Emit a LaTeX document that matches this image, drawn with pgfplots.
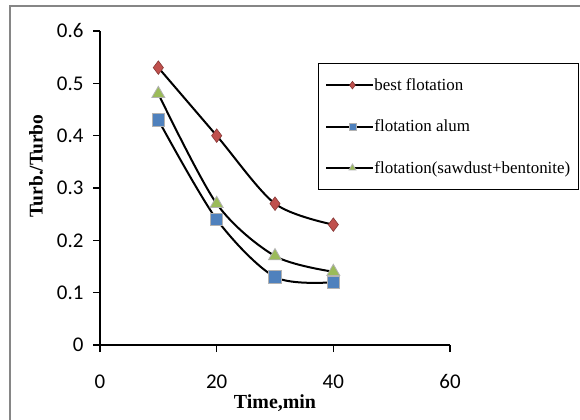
\documentclass[border=0pt]{standalone}
\usepackage{pgfplots}
\pgfplotsset{compat=1.18}
\usepackage{fontspec}
\setmainfont{Liberation Serif}
\newfontfamily\calibri{Carlito}
\definecolor{cred}{HTML}{C0504D}
\definecolor{cblue}{HTML}{4F81BD}
\definecolor{cgreen}{HTML}{9BBB59}
\definecolor{frm}{HTML}{868686}
\pgfplotstableread{
t best alum saw
10 0.53 0.43 0.48
20 0.40 0.24 0.27
30 0.27 0.13 0.17
40 0.23 0.12 0.14
}\datatable
\begin{document}
\begin{tikzpicture}[x=1bp,y=1bp]
\useasboundingbox (0,0) rectangle (580,419);
\draw[frm, line width=2bp] (10,-5) -- (10,413) -- (590,413);
\begin{axis}[
  at={(100bp,74bp)}, anchor=south west,
  scale only axis, width=350bp, height=314bp,
  xmin=0, xmax=60, ymin=0, ymax=0.6,
  axis x line*=bottom, axis y line*=left,
  axis line style={-, line width=1.5bp, black},
  xtick={0,20,40,60},
  ytick={0,0.1,0.2,0.3,0.4,0.5,0.6},
  yticklabels={0,0.1,0.2,0.3,0.4,0.5,0.6},
  tick align=outside, major tick length=7bp,
  tick style={black, line width=1.5bp},
  ticklabel style={font=\calibri\fontsize{21}{21}\selectfont},
  /pgf/number format/assume math mode=true,
  xticklabel style={yshift=-19bp},
  yticklabel style={xshift=-6bp},
  legend style={at={(rel axis cs:0.623,0.898)}, anchor=north west,
    draw=black, line width=0.8bp, font=\fontsize{17}{17}\selectfont,
    row sep=26bp, inner xsep=7bp, inner ysep=14bp,
    nodes={inner sep=1bp}},
  legend cell align=left,
  legend image code/.code={
    \path (0bp,0bp) -- (46bp,0bp);
    \draw[mark repeat=2, mark phase=2, #1]
      plot coordinates {(6bp,0bp) (26bp,0bp) (46bp,0bp)};},
  every axis plot/.append style={black, line width=2bp, smooth, tension=0.5},
]
\addplot[mark=diamond*, mark size=6.8bp, mark options={fill=cred, draw=cred!70!black, line width=0.6bp},
  legend image post style={mark size=3.8bp}] table[x=t, y=best] {\datatable};
\addlegendentry{best flotation}
\addplot[mark=square*, mark size=6.2bp, mark options={fill=cblue, draw=gray!60, line width=0.8bp},
  legend image post style={mark size=3.5bp}] table[x=t, y=alum] {\datatable};
\addlegendentry{flotation alum}
\addplot[mark=triangle*, mark size=7.5bp, mark options={fill=cgreen, draw=gray!60, line width=0.8bp},
  legend image post style={mark size=4bp}] table[x=t, y=saw] {\datatable};
\addlegendentry{flotation(sawdust+bentonite)}
\end{axis}
\node[font=\bfseries\fontsize{20}{20}\selectfont] at (275,16) {Time,min};
\node[font=\bfseries\fontsize{19.5}{19.5}\selectfont, rotate=90] at (36,253) {Turb./Turbo};
\end{tikzpicture}
\end{document}
